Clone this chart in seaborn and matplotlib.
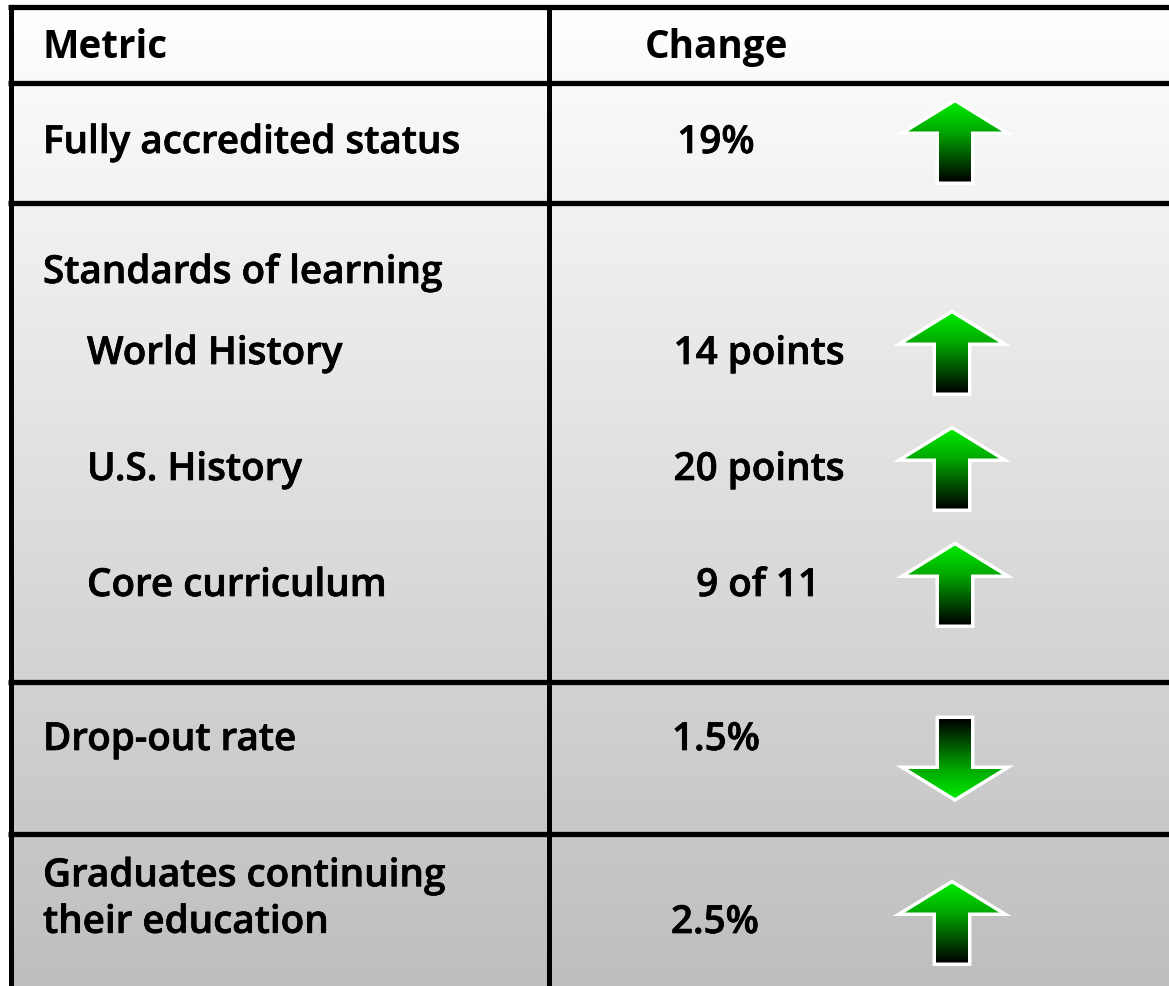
import numpy as np
import pandas as pd
import seaborn as sns
import matplotlib
matplotlib.use("Agg")
import matplotlib.pyplot as plt
import matplotlib.patheffects as pe
from matplotlib.colors import LinearSegmentedColormap
from matplotlib.patches import Polygon

sns.set_theme(style="white")
plt.rcParams['font.family'] = ['Open Sans', 'DejaVu Sans']

W, H = 1169, 987

metrics = ["Fully accredited status", "Standards of learning", "World History", "U.S. History",
           "Core curriculum", "Drop-out rate", "Graduates continuing\ntheir education"]
changes = ["19%", "", "14 points", "20 points", "9 of 11", "1.5%", "2.5%"]
directions = ["up", "", "up", "up", "up", "down", "up"]
metric_x = [43, 43, 87, 87, 87, 43, 43]
metric_y = [144, 274, 355, 471, 587, 741, 900.5]
change_x = [716, 0, 759, 759, 758, 716, 715]
change_y = [144, 0, 355, 471, 587, 741, 924]
arrow_x = [955, 0, 952, 952, 955, 955, 952]
arrow_y = [144.5, 0, 355.5, 471.5, 587.5, 759, 925.5]
h_lines = [8, 84, 204, 683, 835]
v_lines = [10.5, 549]

df = pd.DataFrame(dict(metric=metrics, change=changes, direction=directions))

fig = plt.figure(figsize=(W / 100, H / 100), dpi=100)
ax = fig.add_axes([0, 0, 1, 1])
ax.axis("off")

bg = LinearSegmentedColormap.from_list("bg", ["#ffffff", "#bebebe"])
ax.imshow(np.linspace(0, 1, 256)[:, None], cmap=bg, extent=[10, W, H, 7], aspect="auto", zorder=0)

for y in h_lines:
    ax.plot([8, W], [y, y], color="black", lw=3.8, solid_capstyle="butt", zorder=2)
for x in v_lines:
    ax.plot([x, x], [5.5, H], color="black", lw=3.6, solid_capstyle="butt", zorder=2)

fs = 27.8
thick = [pe.withStroke(linewidth=0.5, foreground="black")]
ax.text(43, 47.5, "Metric", fontsize=fs, fontweight="bold", color="black", va="center", ha="left")
ax.text(716, 47.5, "Change", fontsize=fs, fontweight="bold", color="black", va="center", ha="center")

arrow_cmap = LinearSegmentedColormap.from_list(
    "arrow", [(0, "#00e800"), (0.36, "#00a800"), (1, "#000000")])


def draw_arrow(cx, cy, up):
    s = 1 if up else -1
    base = cy - 1 if not up else cy
    off = [(-16, 38), (16, 38), (16, -12), (47, -12), (0, -41), (-47, -12), (-16, -12)]
    pts = [(cx + dx, base + s * dy) for dx, dy in off]
    ax.add_patch(Polygon(pts, closed=True, fc="white", ec="white", lw=5.0, joinstyle="miter", zorder=3))
    grad = np.linspace(0, 1, 128)[:, None]
    top, bot = (cy - 41, cy + 38) if up else (cy - 39, cy + 40)
    if not up:
        grad = grad[::-1]
    im = ax.imshow(grad, cmap=arrow_cmap, extent=[cx - 47, cx + 47, bot, top], aspect="auto", zorder=4)
    clip = Polygon(pts, closed=True, transform=ax.transData, fc="none", ec="none")
    ax.add_patch(clip)
    im.set_clip_path(clip)


for i, row in df.iterrows():
    ax.text(metric_x[i], metric_y[i], row.metric, fontsize=fs, fontweight="semibold", color="black",
            va="center", ha="left", linespacing=1.22, path_effects=thick)
    if row.change:
        ax.text(change_x[i], change_y[i], row.change, fontsize=fs, fontweight="semibold", color="black",
                va="center", ha="center", path_effects=thick)
        draw_arrow(arrow_x[i], arrow_y[i], row.direction == "up")

ax.set_xlim(0, W)
ax.set_ylim(H, 0)
fig.savefig("out.png", dpi=100, facecolor="white")
